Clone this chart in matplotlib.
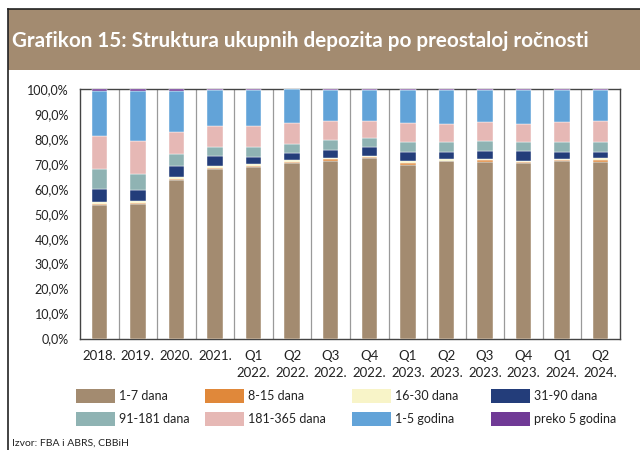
import matplotlib
matplotlib.use("Agg")
import matplotlib.pyplot as plt
from matplotlib.patches import Rectangle
from matplotlib.lines import Line2D
import numpy as np

plt.rcParams['font.family'] = ['Lato', 'DejaVu Sans']

periods = ['2018.', '2019.', '2020.', '2021.',
           'Q1\n2022.', 'Q2\n2022.', 'Q3\n2022.', 'Q4\n2022.',
           'Q1\n2023.', 'Q2\n2023.', 'Q3\n2023.', 'Q4\n2023.',
           'Q1\n2024.', 'Q2\n2024.']

series = ['1-7 dana', '8-15 dana', '16-30 dana', '31-90 dana',
          '91-181 dana', '181-365 dana', '1-5 godina', 'preko 5 godina']
colors = ['#a38b70', '#e0883a', '#f8f4c8', '#233d7a',
          '#8fb3b3', '#e6b8b5', '#62a3d8', '#703a96']

d_1_7 = [53.4, 53.8, 63.7, 68.1, 68.8, 70.4, 71.3, 72.4, 69.7, 71.0, 70.9, 70.4, 71.0, 70.8]
d_8_15 = [0.5, 0.7, 0.4, 0.3, 0.3, 0.3, 0.7, 0.3, 0.7, 0.3, 0.5, 0.5, 0.5, 0.7]
d_16_30 = [1.0, 0.7, 0.7, 0.7, 0.8, 0.8, 0.5, 0.5, 0.6, 0.5, 0.5, 0.4, 0.5, 0.7]
d_31_90 = [5.2, 4.3, 4.4, 4.0, 2.8, 2.9, 3.2, 3.7, 3.7, 2.9, 3.1, 3.7, 2.7, 2.7]
d_91_181 = [7.7, 6.4, 4.7, 3.7, 4.1, 3.7, 3.7, 3.6, 4.0, 3.9, 4.1, 3.6, 3.9, 3.9]
d_181_365 = [13.4, 13.4, 8.7, 8.3, 8.3, 8.3, 7.7, 6.8, 7.7, 7.5, 7.6, 7.5, 8.0, 8.5]
g_1_5 = [17.9, 20.0, 16.6, 14.4, 14.6, 13.4, 12.6, 12.4, 13.3, 13.6, 13.0, 13.6, 13.1, 12.4]
g_5_plus = [0.9, 0.7, 0.8, 0.5, 0.3, 0.2, 0.3, 0.3, 0.3, 0.3, 0.3, 0.3, 0.3, 0.3]

data = [d_1_7, d_8_15, d_16_30, d_31_90, d_91_181, d_181_365, g_1_5, g_5_plus]

W, H = 640, 450
fig = plt.figure(figsize=(6.4, 4.5), dpi=100)

# outer frame + title bar
fig.add_artist(Line2D([8/W, 8/W], [0, 1 - 9/H], color='#222222', lw=1.2))
fig.add_artist(Line2D([8/W, 1], [1 - 9/H, 1 - 9/H], color='#222222', lw=1.2))
fig.add_artist(Rectangle((8/W, 1 - 70/H), 1 - 8/W, 61/H,
                         facecolor='#a38b70', edgecolor='none'))
fig.text(12/W, 1 - 41/H, 'Grafikon 15: Struktura ukupnih depozita po preostaloj ročnosti',
         color='white', fontsize=14.9, fontweight='bold', va='center', ha='left')

ax = fig.add_axes([80/W, 1 - 338.5/H, 540/W, 249.5/H])
x = np.arange(len(periods))
bottom = np.zeros(len(periods))
for vals, name, c in zip(data, series, colors):
    ax.bar(x, vals, bottom=bottom, width=0.4, color=c, edgecolor='white',
           linewidth=0.3, label=name, zorder=3)
    bottom += np.array(vals)

for b in np.arange(0.5, len(periods) - 1, 1):
    ax.axvline(b, color='#9a9a9a', lw=0.9, zorder=1)

ax.set_xlim(-0.5, len(periods) - 0.5)
ax.set_ylim(0, 100)
ax.set_yticks(np.arange(0, 101, 10))
ax.set_yticklabels([f'{v},0%' for v in range(0, 101, 10)])
ax.set_xticks(x)
ax.set_xticklabels(periods, linespacing=1.5, va='top')
ax.tick_params(length=0, colors='#222222')
ax.tick_params(axis='y', pad=8, labelsize=9)
ax.tick_params(axis='x', pad=8, labelsize=9.5)
for s in ax.spines.values():
    s.set_color('#444444')
    s.set_linewidth(1.0)

# legend, laid out by hand in 4 columns x 2 rows
col_x = [76, 205, 352, 491]
row_y = [396, 419]
for i, (name, c) in enumerate(zip(series, colors)):
    r, k = divmod(i, 4)
    fig.add_artist(Rectangle((col_x[k]/W, 1 - (row_y[r] + 7)/H), 39/W, 14/H,
                             facecolor=c, edgecolor='none'))
    fig.text((col_x[k] + 43)/W, 1 - row_y[r]/H, name, fontsize=9,
             va='center', ha='left', color='#222222')

fig.text(12/W, 1 - 443/H, 'Izvor: FBA i ABRS, CBBiH', fontsize=7.5,
         va='center', ha='left', color='#222222')

fig.savefig('out.png', dpi=100)
